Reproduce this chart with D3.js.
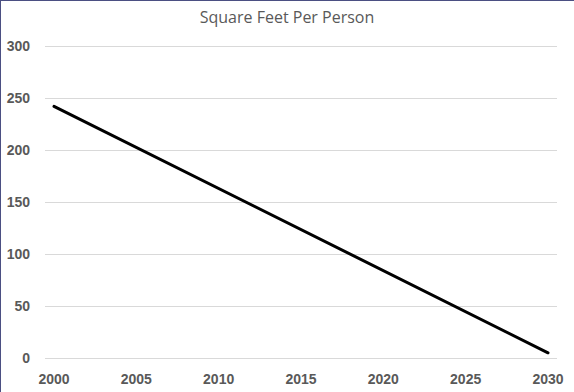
<!DOCTYPE html>
<html><head><meta charset="utf-8">
<script src="https://cdn.jsdelivr.net/npm/d3@7"></script>
<style>html,body{margin:0;padding:0;background:#fff;}svg{display:block;}</style>
</head><body>
<svg id="c" width="574" height="392"></svg>
<script>
const title = "Square Feet Per Person";
const years = [2000, 2030];
const values = [242, 5];
const xTicks = [2000, 2005, 2010, 2015, 2020, 2025, 2030];
const yTicks = [0, 50, 100, 150, 200, 250, 300];

const svg = d3.select("#c");
const W = 574, H = 392;
svg.append("rect").attr("width", W).attr("height", H).attr("fill", "#fff");
// border on top and left
svg.append("line").attr("x1", 0).attr("x2", W).attr("y1", 0.5).attr("y2", 0.5).attr("stroke", "#4b4f82").attr("stroke-width", 1);
svg.append("line").attr("x1", 0.5).attr("x2", 0.5).attr("y1", 0).attr("y2", H).attr("stroke", "#4b4f82").attr("stroke-width", 1);

const x = d3.scaleLinear().domain([2000, 2030]).range([54, 548]);
const y = d3.scaleLinear().domain([0, 300]).range([358, 46]);

// gridlines
svg.append("g").selectAll("line").data(yTicks).join("line")
  .attr("x1", 45).attr("x2", 557)
  .attr("y1", d => Math.round(y(d)) + 0.5).attr("y2", d => Math.round(y(d)) + 0.5)
  .attr("stroke", "#d9d9d9").attr("stroke-width", 1);

// y labels
svg.append("g").selectAll("text").data(yTicks).join("text")
  .attr("x", 30).attr("y", d => y(d) + 5)
  .attr("text-anchor", "end")
  .attr("font-family", "Liberation Sans, Arial, sans-serif")
  .attr("font-size", 14).attr("font-weight", "bold").attr("fill", "#595959")
  .text(d => d);

// x labels
svg.append("g").selectAll("text").data(xTicks).join("text")
  .attr("x", d => x(d)).attr("y", 384)
  .attr("text-anchor", "middle")
  .attr("font-family", "Liberation Sans, Arial, sans-serif")
  .attr("font-size", 14).attr("font-weight", "bold").attr("fill", "#595959")
  .text(d => d);

// line
const pts = years.map((yr, i) => [yr, values[i]]);
svg.append("path").datum(pts)
  .attr("d", d3.line().x(d => x(d[0])).y(d => y(d[1])))
  .attr("fill", "none").attr("stroke", "#000").attr("stroke-width", 3)
  .attr("stroke-linecap", "round");

// title
svg.append("text").attr("x", 287).attr("y", 23)
  .attr("text-anchor", "middle")
  .attr("font-family", "Open Sans, Liberation Sans, sans-serif")
  .attr("font-size", 16).attr("fill", "#595959")
  .text(title);
</script>
</body></html>
